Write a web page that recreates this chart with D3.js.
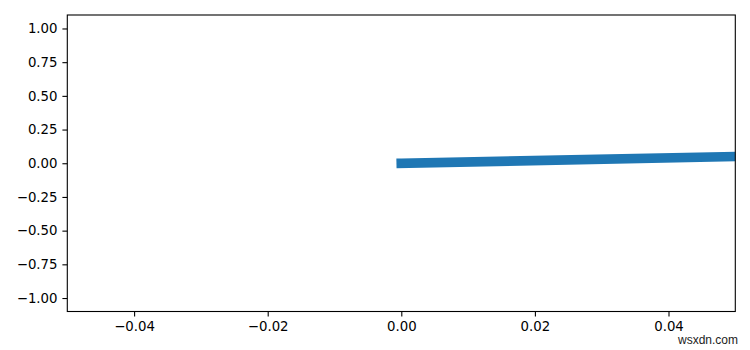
<!DOCTYPE html>
<html><head><meta charset="utf-8">
<script src="https://cdn.jsdelivr.net/npm/d3@7"></script>
<style>body{margin:0;background:#fff}svg{display:block}</style>
</head><body>
<script>
const lineX = [0, 1];
const lineY = [0, 1];
const xTicks = [-0.04, -0.02, 0.00, 0.02, 0.04];
const yTicks = [-1.00, -0.75, -0.50, -0.25, 0.00, 0.25, 0.50, 0.75, 1.00];
const xDomain = [-0.05, 0.05];
const yDomain = [-1.1, 1.1];

const W = 750, H = 350;
const m = {left: 67.3, right: 735.3, top: 15, bottom: 311.5};
const svg = d3.select("body").append("svg").attr("width", W).attr("height", H);
const x = d3.scaleLinear().domain(xDomain).range([m.left, m.right]);
const y = d3.scaleLinear().domain(yDomain).range([m.bottom, m.top]);

svg.append("clipPath").attr("id","clip").append("rect")
  .attr("x", m.left).attr("y", m.top).attr("width", m.right-m.left).attr("height", m.bottom-m.top);

const pts = lineX.map((v,i)=>[v, lineY[i]]);
svg.append("path").attr("clip-path","url(#clip)")
  .attr("d", d3.line().x(d=>x(d[0])).y(d=>y(d[1]))(pts))
  .attr("fill","none").attr("stroke","#1f77b4").attr("stroke-width",9.7)
  .attr("stroke-linecap","square");

const font = "DejaVu Sans";
const xa = svg.append("g").attr("transform",`translate(0,${m.bottom})`)
  .call(d3.axisBottom(x).tickValues(xTicks).tickFormat(d3.format(".2f")).tickSizeOuter(0).tickSize(4.9).tickPadding(4.9));
const ya = svg.append("g").attr("transform",`translate(${m.left},0)`)
  .call(d3.axisLeft(y).tickValues(yTicks).tickFormat(d3.format(".2f")).tickSizeOuter(0).tickSize(4.9).tickPadding(4.9));
[xa, ya].forEach(g=>{
  g.select(".domain").remove();
  g.selectAll("line").attr("stroke","#000").attr("stroke-width",1.1);
  g.selectAll("text").attr("font-family",font).attr("font-size",13.3).attr("fill","#000");
});
xa.selectAll("text").attr("dy","0.71em");

svg.append("rect").attr("x",m.left).attr("y",m.top).attr("width",m.right-m.left).attr("height",m.bottom-m.top)
  .attr("fill","none").attr("stroke","#000").attr("stroke-width",1.1);

svg.append("text").attr("x",738).attr("y",344).attr("text-anchor","end")
  .attr("font-family","Liberation Sans").attr("font-size",12).attr("fill","#222").text("wsxdn.com");
</script>
</body></html>
